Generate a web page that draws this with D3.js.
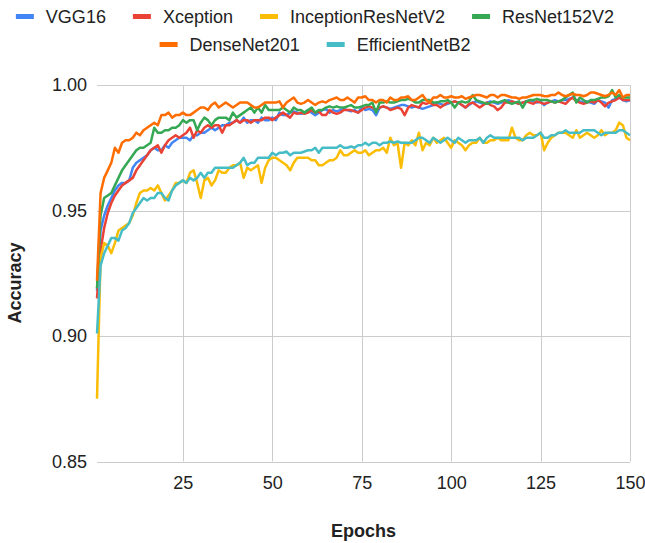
<!DOCTYPE html>
<html>
<head>
<meta charset="utf-8">
<script src="https://cdn.jsdelivr.net/npm/d3@7"></script>
<style>
  body { margin: 0; background: #fff; }
  text { font-family: Arial, 'Liberation Sans', sans-serif; fill: #222; }
</style>
</head>
<body>
<div class="page"></div>
<script>
var seriesNames = ['VGG16', 'Xception', 'InceptionResNetV2', 'ResNet152V2', 'DenseNet201', 'EfficientNetB2'];
var seriesColors = ['#4285f4', '#ea4335', '#fbbc04', '#34a853', '#ff6d01', '#46bdc6'];
var xTicks = [25, 50, 75, 100, 125, 150];
var yTicks = [0.85, 0.90, 0.95, 1.00];

var vgg16 = [
  0.918, 0.942, 0.948, 0.952, 0.955, 0.958, 0.960, 0.961, 0.961, 0.962,
  0.967, 0.969, 0.970, 0.971, 0.972, 0.974, 0.975, 0.974, 0.974, 0.976,
  0.975, 0.977, 0.978, 0.979, 0.979, 0.979, 0.978, 0.980, 0.980, 0.981,
  0.981, 0.982, 0.983, 0.982, 0.983, 0.984, 0.984, 0.985, 0.985, 0.986,
  0.985, 0.987, 0.985, 0.986, 0.986, 0.985, 0.987, 0.986, 0.986, 0.987,
  0.986, 0.989, 0.988, 0.988, 0.989, 0.9895, 0.989, 0.9885, 0.989, 0.990,
  0.989, 0.988, 0.989, 0.990, 0.9905, 0.989, 0.990, 0.9895, 0.990, 0.9905,
  0.990, 0.9895, 0.990, 0.989, 0.991, 0.990, 0.9905, 0.990, 0.988, 0.991,
  0.9915, 0.991, 0.9905, 0.991, 0.9915, 0.992, 0.992, 0.9915, 0.991, 0.9915,
  0.991, 0.9905, 0.991, 0.9915, 0.992, 0.993, 0.9925, 0.992, 0.9925, 0.993,
  0.9935, 0.993, 0.992, 0.991, 0.992, 0.993, 0.9935, 0.993, 0.9925, 0.993,
  0.9935, 0.993, 0.9925, 0.993, 0.9935, 0.994, 0.9935, 0.993, 0.9925, 0.993,
  0.9935, 0.994, 0.9935, 0.993, 0.9935, 0.992, 0.993, 0.9935, 0.994, 0.9935,
  0.994, 0.994, 0.9945, 0.995, 0.994, 0.9935, 0.993, 0.9935, 0.993, 0.9925,
  0.994, 0.9935, 0.993, 0.991, 0.994, 0.9945, 0.995, 0.994, 0.9935, 0.994
];

var xception = [
  0.915, 0.934, 0.943, 0.949, 0.953, 0.956, 0.958, 0.960, 0.961, 0.962,
  0.963, 0.966, 0.968, 0.970, 0.972, 0.974, 0.975, 0.976, 0.973, 0.976,
  0.978, 0.979, 0.980, 0.979, 0.980, 0.981, 0.983, 0.979, 0.982, 0.981,
  0.983, 0.984, 0.983, 0.984, 0.984, 0.981, 0.984, 0.984, 0.985, 0.986,
  0.985, 0.986, 0.986, 0.985, 0.986, 0.986, 0.986, 0.987, 0.987, 0.986,
  0.987, 0.988, 0.989, 0.988, 0.987, 0.989, 0.9885, 0.989, 0.9885, 0.989,
  0.990, 0.989, 0.9895, 0.988, 0.988, 0.990, 0.989, 0.9885, 0.989, 0.990,
  0.990, 0.990, 0.9895, 0.989, 0.990, 0.991, 0.9915, 0.991, 0.990, 0.991,
  0.9915, 0.991, 0.990, 0.9905, 0.991, 0.9905, 0.988, 0.991, 0.992, 0.9915,
  0.991, 0.993, 0.9925, 0.993, 0.992, 0.992, 0.991, 0.992, 0.993, 0.993,
  0.9935, 0.993, 0.992, 0.991, 0.9925, 0.993, 0.992, 0.991, 0.992, 0.993,
  0.992, 0.9915, 0.990, 0.991, 0.993, 0.993, 0.9935, 0.993, 0.9925, 0.993,
  0.9935, 0.993, 0.9925, 0.9935, 0.993, 0.9925, 0.993, 0.9935, 0.993, 0.9935,
  0.993, 0.9925, 0.994, 0.995, 0.9935, 0.993, 0.9925, 0.993, 0.9935, 0.993,
  0.994, 0.993, 0.9915, 0.993, 0.9935, 0.994, 0.995, 0.994, 0.994, 0.994
];

var inceptionResNetV2 = [
  0.875, 0.931, 0.937, 0.936, 0.933, 0.937, 0.942, 0.943, 0.944, 0.945,
  0.948, 0.953, 0.957, 0.958, 0.958, 0.959, 0.958, 0.960, 0.957, 0.954,
  0.956, 0.958, 0.961, 0.961, 0.962, 0.961, 0.965, 0.966, 0.961, 0.955,
  0.962, 0.963, 0.960, 0.962, 0.966, 0.965, 0.965, 0.967, 0.968, 0.968,
  0.969, 0.963, 0.967, 0.966, 0.967, 0.968, 0.961, 0.967, 0.970, 0.971,
  0.971, 0.970, 0.969, 0.968, 0.966, 0.969, 0.971, 0.971, 0.971, 0.971,
  0.970, 0.970, 0.968, 0.968, 0.969, 0.970, 0.970, 0.971, 0.974, 0.972,
  0.972, 0.973, 0.974, 0.973, 0.973, 0.974, 0.972, 0.973, 0.974, 0.974,
  0.975, 0.973, 0.979, 0.976, 0.977, 0.967, 0.977, 0.976, 0.978, 0.976,
  0.981, 0.974, 0.977, 0.976, 0.979, 0.977, 0.978, 0.979, 0.977, 0.975,
  0.978, 0.977, 0.976, 0.974, 0.976, 0.977, 0.977, 0.979, 0.977, 0.977,
  0.978, 0.978, 0.979, 0.978, 0.978, 0.978, 0.983, 0.979, 0.978, 0.978,
  0.980, 0.981, 0.980, 0.980, 0.981, 0.974, 0.977, 0.979, 0.980, 0.981,
  0.981, 0.981, 0.980, 0.979, 0.982, 0.979, 0.980, 0.981, 0.980, 0.979,
  0.980, 0.982, 0.980, 0.981, 0.981, 0.982, 0.985, 0.984, 0.979, 0.978
];

var resNet152V2 = [
  0.919, 0.948, 0.955, 0.956, 0.957, 0.960, 0.963, 0.966, 0.968, 0.970,
  0.972, 0.974, 0.975, 0.975, 0.976, 0.977, 0.983, 0.981, 0.981, 0.982,
  0.982, 0.983, 0.983, 0.984, 0.986, 0.985, 0.986, 0.986, 0.982, 0.985,
  0.987, 0.986, 0.984, 0.986, 0.987, 0.987, 0.987, 0.986, 0.989, 0.987,
  0.988, 0.989, 0.990, 0.991, 0.989, 0.991, 0.989, 0.992, 0.990, 0.990,
  0.990, 0.990, 0.991, 0.990, 0.989, 0.991, 0.990, 0.990, 0.989, 0.990,
  0.991, 0.989, 0.990, 0.990, 0.991, 0.9915, 0.991, 0.9915, 0.991, 0.991,
  0.9915, 0.992, 0.991, 0.991, 0.9915, 0.992, 0.992, 0.993, 0.989, 0.993,
  0.993, 0.9935, 0.993, 0.993, 0.9935, 0.994, 0.994, 0.9945, 0.994, 0.993,
  0.993, 0.994, 0.994, 0.994, 0.993, 0.993, 0.9935, 0.9935, 0.994, 0.993,
  0.991, 0.993, 0.9935, 0.993, 0.9935, 0.996, 0.994, 0.9935, 0.993, 0.9925,
  0.993, 0.9935, 0.993, 0.9935, 0.994, 0.993, 0.9925, 0.993, 0.9935, 0.991,
  0.9935, 0.994, 0.994, 0.9945, 0.994, 0.994, 0.994, 0.9935, 0.993, 0.9935,
  0.994, 0.995, 0.996, 0.997, 0.993, 0.995, 0.994, 0.993, 0.994, 0.994,
  0.9945, 0.995, 0.995, 0.9955, 0.998, 0.995, 0.996, 0.995, 0.995, 0.995
];

var denseNet201 = [
  0.922, 0.957, 0.963, 0.966, 0.969, 0.975, 0.973, 0.977, 0.978, 0.978,
  0.979, 0.981, 0.980, 0.982, 0.983, 0.984, 0.985, 0.984, 0.988, 0.988,
  0.989, 0.987, 0.988, 0.988, 0.989, 0.988, 0.988, 0.989, 0.990, 0.991,
  0.991, 0.990, 0.992, 0.993, 0.991, 0.992, 0.993, 0.992, 0.991, 0.992,
  0.993, 0.993, 0.993, 0.992, 0.991, 0.991, 0.992, 0.993, 0.993, 0.993,
  0.993, 0.9935, 0.991, 0.993, 0.994, 0.995, 0.993, 0.9925, 0.993, 0.994,
  0.993, 0.992, 0.993, 0.9935, 0.993, 0.994, 0.9945, 0.995, 0.994, 0.994,
  0.995, 0.994, 0.993, 0.995, 0.995, 0.9955, 0.994, 0.994, 0.993, 0.994,
  0.994, 0.993, 0.995, 0.994, 0.994, 0.995, 0.995, 0.9955, 0.994, 0.994,
  0.995, 0.996, 0.994, 0.993, 0.995, 0.995, 0.996, 0.995, 0.995, 0.9955,
  0.995, 0.995, 0.9955, 0.9945, 0.995, 0.9955, 0.996, 0.996, 0.9955, 0.995,
  0.996, 0.996, 0.995, 0.996, 0.996, 0.9955, 0.995, 0.995, 0.9945, 0.995,
  0.995, 0.9955, 0.996, 0.996, 0.996, 0.9955, 0.9955, 0.996, 0.996, 0.997,
  0.996, 0.9955, 0.996, 0.9965, 0.996, 0.996, 0.9955, 0.996, 0.997, 0.997,
  0.9965, 0.996, 0.9955, 0.996, 0.997, 0.996, 0.998, 0.995, 0.996, 0.996
];

var efficientNetB2 = [
  0.901, 0.928, 0.933, 0.936, 0.939, 0.939, 0.938, 0.942, 0.943, 0.945,
  0.949, 0.951, 0.953, 0.955, 0.954, 0.955, 0.955, 0.957, 0.957, 0.955,
  0.954, 0.958, 0.960, 0.961, 0.962, 0.961, 0.963, 0.962, 0.963, 0.965,
  0.963, 0.965, 0.965, 0.967, 0.967, 0.967, 0.967, 0.967, 0.967, 0.968,
  0.969, 0.971, 0.968, 0.969, 0.969, 0.971, 0.971, 0.971, 0.971, 0.973,
  0.972, 0.973, 0.973, 0.9735, 0.972, 0.973, 0.973, 0.973, 0.9735, 0.974,
  0.974, 0.975, 0.973, 0.975, 0.975, 0.975, 0.975, 0.975, 0.976, 0.975,
  0.975, 0.9755, 0.975, 0.976, 0.976, 0.977, 0.976, 0.977, 0.977, 0.976,
  0.977, 0.977, 0.9775, 0.977, 0.9775, 0.977, 0.977, 0.977, 0.977, 0.978,
  0.979, 0.979, 0.978, 0.977, 0.979, 0.978, 0.977, 0.978, 0.979, 0.978,
  0.977, 0.979, 0.978, 0.977, 0.978, 0.978, 0.978, 0.979, 0.977, 0.979,
  0.980, 0.979, 0.979, 0.979, 0.979, 0.979, 0.979, 0.979, 0.979, 0.978,
  0.979, 0.979, 0.979, 0.980, 0.981, 0.979, 0.979, 0.980, 0.980, 0.981,
  0.981, 0.982, 0.981, 0.981, 0.981, 0.981, 0.982, 0.982, 0.982, 0.982,
  0.981, 0.980, 0.981, 0.981, 0.981, 0.981, 0.982, 0.982, 0.981, 0.980
];

var seriesValues = [vgg16, xception, inceptionResNetV2, resNet152V2, denseNet201, efficientNetB2];

var width = 645, height = 543;
var plotArea = {left: 97, right: 630, top: 85, bottom: 461.5};

var xScale = d3.scaleLinear()
  .domain([1, 150])
  .range([plotArea.left, plotArea.right]);

var yScale = d3.scaleLinear()
  .domain([0.85, 1.00])
  .range([plotArea.bottom, plotArea.top]);

var svg = d3.select('.page').append('svg')
  .attr('width', width)
  .attr('height', height);

// gridlines
svg.append('g').selectAll('line').data(yTicks)
  .enter().append('line')
  .attr('x1', plotArea.left).attr('x2', plotArea.right)
  .attr('y1', function(d) { return Math.round(yScale(d)) + 0.5; })
  .attr('y2', function(d) { return Math.round(yScale(d)) + 0.5; })
  .attr('stroke', '#cccccc');

svg.append('g').selectAll('line').data(xTicks)
  .enter().append('line')
  .attr('y1', plotArea.top).attr('y2', plotArea.bottom)
  .attr('x1', function(d) { return Math.round(xScale(d)) + 0.5; })
  .attr('x2', function(d) { return Math.round(xScale(d)) + 0.5; })
  .attr('stroke', '#cccccc');

// axes (labels only, lines hidden)
var xAxis = d3.axisBottom(xScale).tickValues(xTicks).tickSize(0).tickPadding(0);
var yAxis = d3.axisLeft(yScale).tickValues(yTicks).tickFormat(d3.format('.2f')).tickSize(0).tickPadding(10);

var gx = svg.append('g')
  .attr('transform', 'translate(0,' + plotArea.bottom + ')')
  .call(xAxis);
gx.select('.domain').remove();
gx.selectAll('text')
  .attr('y', 27)
  .attr('dy', 0)
  .style('font-size', '18px')
  .style('font-family', 'Arial, "Liberation Sans", sans-serif')
  .attr('fill', '#222');

var gy = svg.append('g')
  .attr('transform', 'translate(' + plotArea.left + ',0)')
  .call(yAxis);
gy.select('.domain').remove();
gy.selectAll('text')
  .style('font-size', '18px')
  .style('font-family', 'Arial, "Liberation Sans", sans-serif')
  .attr('fill', '#222');

// lines
var line = d3.line()
  .x(function(d, i) { return xScale(i + 1); })
  .y(function(d) { return yScale(d); });

svg.append('g').selectAll('path').data(seriesValues)
  .enter().append('path')
  .attr('d', line)
  .attr('fill', 'none')
  .attr('stroke', function(d, i) { return seriesColors[i]; })
  .attr('stroke-width', 2.5)
  .attr('stroke-linejoin', 'round');

// axis titles
svg.append('text')
  .text('Epochs')
  .attr('x', (plotArea.left + plotArea.right) / 2)
  .attr('y', 537)
  .attr('text-anchor', 'middle')
  .style('font-size', '18px')
  .style('font-weight', 'bold');

svg.append('text')
  .text('Accuracy')
  .attr('transform', 'translate(21,283) rotate(-90)')
  .attr('text-anchor', 'middle')
  .style('font-size', '18px')
  .style('font-weight', 'bold');

// legend, two centred rows
var legendRows = [[0, 1, 2, 3], [4, 5]];
var legendBaselines = [23, 51];
var legendCenter = 315;

legendRows.forEach(function(row, r) {
  var g = svg.append('g');
  var x = 0;
  row.forEach(function(k, j) {
    var item = g.append('g').attr('transform', 'translate(' + x + ',0)');
    item.append('rect')
      .attr('x', 0).attr('y', legendBaselines[r] - 9)
      .attr('width', 18).attr('height', 5)
      .attr('fill', seriesColors[k]);
    var t = item.append('text')
      .text(seriesNames[k])
      .attr('x', 30)
      .attr('y', legendBaselines[r])
      .style('font-size', '18px');
    x += 30 + t.node().getComputedTextLength() + (j < row.length - 1 ? 27 : 0);
  });
  g.attr('transform', 'translate(' + (legendCenter - x / 2) + ',0)');
});
</script>
</body>
</html>
